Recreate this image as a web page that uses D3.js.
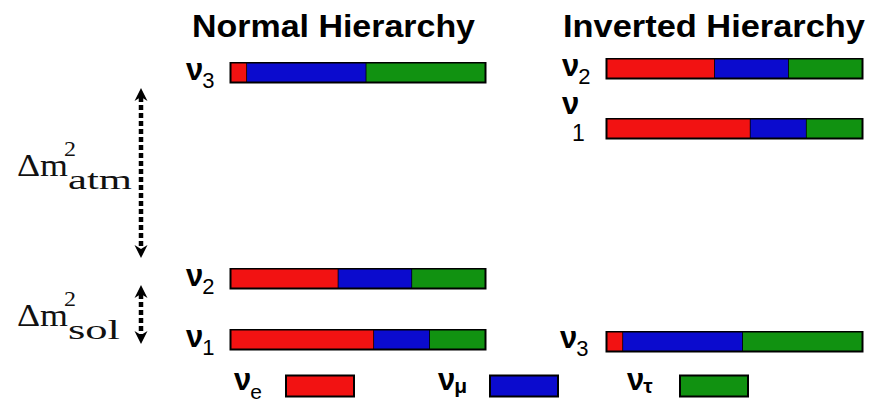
<!DOCTYPE html>
<html>
<head>
<meta charset="utf-8">
<script src="https://cdn.jsdelivr.net/npm/d3@7"></script>
<style>
  html, body { margin: 0; padding: 0; background: #fff; }
  svg { display: block; }
</style>
</head>
<body>
<svg id="chart" width="872" height="401"></svg>
<script>
// Flavour content of each mass eigenstate: fractions of nu_e, nu_mu, nu_tau
const flavors = ["e", "μ", "τ"];
const flavorColors = ["#f21212", "#0b0bce", "#119211"];

const normalStates = ["3", "2", "1"];
const invertedStates = ["2", "1", "3"];

const fracE   = { "3": 0.06, "2": 0.42, "1": 0.56 };
const fracMu  = { "3": 0.47, "2": 0.29, "1": 0.22 };
const fracTau = { "3": 0.47, "2": 0.29, "1": 0.22 };

const titles = ["Normal Hierarchy", "Inverted Hierarchy"];
const splitNames = ["atm", "sol"];

const svg = d3.select("#chart");
const barH = 19;

// horizontal scales: composition fraction -> pixels, one per hierarchy
const xNormal = d3.scaleLinear().domain([0, 1]).range([231, 485]);
const xInverted = d3.scaleLinear().domain([0, 1]).range([607, 862]);

// vertical placement of each mass level
const yNormal = d3.scaleOrdinal().domain(normalStates).range([63, 269, 330]);
const yInverted = d3.scaleOrdinal().domain(invertedStates).range([59, 119, 332]);

function stackFor(state) {
  const vals = [fracE[state], fracMu[state], fracTau[state]];
  let acc = 0;
  return vals.map((v, i) => { const s = { x0: acc, x1: acc + v, i }; acc += v; return s; });
}

function drawBars(states, x, y) {
  const g = svg.append("g");
  const rows = g.selectAll("g.row").data(states).join("g").attr("class", "row");
  rows.append("rect")
    .attr("x", x(0) - 1.5).attr("y", d => y(d) - 1)
    .attr("width", x(1) - x(0) + 3).attr("height", barH + 2.5)
    .attr("fill", "#000");
  rows.selectAll("rect.seg").data(d => stackFor(d).map(s => ({ ...s, state: d })))
    .join("rect").attr("class", "seg")
    .attr("x", s => x(s.x0) + (s.i === 0 ? 0.5 : 0.8))
    .attr("width", s => Math.max(0, x(s.x1) - x(s.x0) - (s.i === 0 ? 0.5 : 0.8) - (s.i === 2 ? 0.5 : 0)))
    .attr("y", s => y(s.state) + 0.5)
    .attr("height", barH - 1)
    .attr("fill", s => flavorColors[s.i]);
}

drawBars(normalStates, xNormal, yNormal);
drawBars(invertedStates, xInverted, yInverted);

// titles
const titleFont = "'Liberation Sans', Arial, sans-serif";
svg.append("text").attr("x", 192).attr("y", 37).text(titles[0])
  .attr("font-family", titleFont).attr("font-weight", "bold").attr("font-size", 30.5)
  .attr("textLength", 283).attr("lengthAdjust", "spacingAndGlyphs");
svg.append("text").attr("x", 563).attr("y", 37).text(titles[1])
  .attr("font-family", titleFont).attr("font-weight", "bold").attr("font-size", 30.5)
  .attr("textLength", 302).attr("lengthAdjust", "spacingAndGlyphs");

// nu labels
const nuFont = "'Liberation Sans', Arial, sans-serif";
function nuLabel(x, y, sub) {
  const t = svg.append("text").attr("x", x).attr("y", y)
    .attr("font-family", nuFont).attr("font-weight", "bold").attr("font-size", 31);
  t.append("tspan").text("ν");
  t.append("tspan").attr("dx", -1).attr("dy", 8)
    .attr("font-size", 22).attr("font-weight", "normal").text(sub);
  return t;
}
nuLabel(186, 80, normalStates[0]);
nuLabel(186, 286, normalStates[1]);
nuLabel(186, 347, normalStates[2]);
nuLabel(562, 76, invertedStates[0]);
nuLabel(560, 348, invertedStates[2]);
// the nu_1 label of the inverted ordering sits on two lines
svg.append("text").attr("x", 562).attr("y", 114)
  .attr("font-family", nuFont).attr("font-weight", "bold").attr("font-size", 31).text("ν");
svg.append("text").attr("x", 572).attr("y", 141)
  .attr("font-family", nuFont).attr("font-size", 23).text(invertedStates[1]);

// mass splitting labels: Δm, superscript 2, subscript name (a wide serif face)
const serif = "'Liberation Serif', 'Times New Roman', serif";
function splitLabel(y, name, subWidth) {
  const g = svg.append("g").attr("font-family", serif).attr("fill", "#111");
  g.append("text").attr("x", 17).attr("y", y).attr("font-size", 31)
    .attr("textLength", 51).attr("lengthAdjust", "spacingAndGlyphs").text("Δm");
  g.append("text").attr("x", 64).attr("y", y - 20).attr("font-size", 21)
    .attr("textLength", 12).attr("lengthAdjust", "spacingAndGlyphs").text("2");
  g.append("text").attr("x", 68).attr("y", y + 13).attr("font-size", 28)
    .attr("textLength", subWidth).attr("lengthAdjust", "spacingAndGlyphs").text(name);
}
splitLabel(176, splitNames[0], 64);
splitLabel(326, splitNames[1], 52);

// dashed double arrows
function dashedArrow(x, y0, y1) {
  const g = svg.append("g");
  g.append("line").attr("x1", x).attr("x2", x).attr("y1", y0 + 9).attr("y2", y1 - 9)
    .attr("stroke", "#000").attr("stroke-width", 4.5).attr("stroke-dasharray", "5,3");
  const head = (tip, dir) => `M${x},${tip} L${x + 6.5},${tip + dir * 13} L${x},${tip + dir * 9} L${x - 6.5},${tip + dir * 13} Z`;
  g.append("path").attr("d", head(y0, 1)).attr("fill", "#000");
  g.append("path").attr("d", head(y1, -1)).attr("fill", "#000");
}
dashedArrow(141, 88, 258);
dashedArrow(141, 285, 344);

// legend
const legendLabelX = [234, 438, 627];
const legendBoxX = [286, 490, 680];
flavors.forEach((f, i) => {
  const t = svg.append("text").attr("x", legendLabelX[i]).attr("y", 390)
    .attr("font-family", nuFont).attr("font-weight", "bold").attr("font-size", 31);
  t.append("tspan").text("ν");
  t.append("tspan").attr("dx", -1).attr("dy", i === 0 ? 9 : 3)
    .attr("font-size", 21).attr("font-weight", i === 0 ? "normal" : "bold").text(f);
  svg.append("rect").attr("x", legendBoxX[i]).attr("y", 375.5)
    .attr("width", 68).attr("height", 21)
    .attr("fill", flavorColors[i]).attr("stroke", "#000").attr("stroke-width", 2);
});
</script>
</body>
</html>
